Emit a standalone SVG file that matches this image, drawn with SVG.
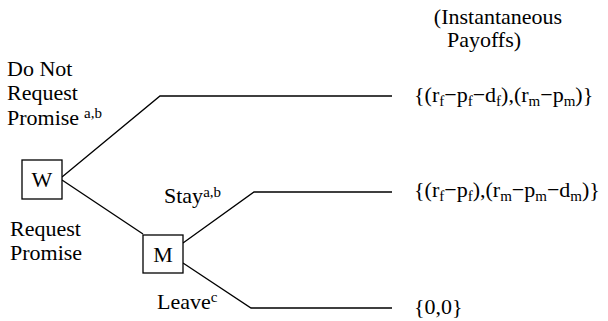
<svg xmlns="http://www.w3.org/2000/svg" width="608" height="321" viewBox="0 0 608 321">
<rect width="608" height="321" fill="#fff"/>
<g id="connectors" fill="none" stroke="#000" stroke-width="1.3">
<polyline points="62,177 160,96 392,96"/>
<line x1="62" y1="180" x2="143" y2="234"/>
<polyline points="183,243 254,192 392,192"/>
<polyline points="183,263 251,308 392,308"/>
</g>
<g id="node-W">
<rect x="22" y="160" width="40" height="39" fill="#fff" stroke="#000" stroke-width="1.3"/>
<text style="font-family:'Liberation Serif',serif;font-size:22px" font-family="Liberation Serif" font-size="22" x="42" y="187" text-anchor="middle">W</text>
</g>
<g id="node-M">
<rect x="143" y="235" width="40" height="38" fill="#fff" stroke="#000" stroke-width="1.3"/>
<text style="font-family:'Liberation Serif',serif;font-size:22px" font-family="Liberation Serif" font-size="22" x="163" y="262" text-anchor="middle">M</text>
</g>
<g id="labels">
<text style="font-family:'Liberation Serif',serif;font-size:22px" font-family="Liberation Serif" font-size="22" x="498" y="24" text-anchor="middle">(Instantaneous</text>
<text style="font-family:'Liberation Serif',serif;font-size:22px" font-family="Liberation Serif" font-size="22" x="484" y="47" text-anchor="middle">Payoffs)</text>
<text style="font-family:'Liberation Serif',serif;font-size:22px" font-family="Liberation Serif" font-size="22" x="7" y="76">Do Not</text>
<text style="font-family:'Liberation Serif',serif;font-size:22px" font-family="Liberation Serif" font-size="22" x="7" y="100">Request</text>
<text style="font-family:'Liberation Serif',serif;font-size:22px" font-family="Liberation Serif" font-size="22" x="7" y="125">Promise</text>
<text style="font-family:'Liberation Serif',serif;font-size:15px" font-family="Liberation Serif" font-size="15" x="84" y="118">a,b</text>
<text style="font-family:'Liberation Serif',serif;font-size:22px" font-family="Liberation Serif" font-size="22" x="10" y="236">Request</text>
<text style="font-family:'Liberation Serif',serif;font-size:22px" font-family="Liberation Serif" font-size="22" x="10" y="260">Promise</text>
<text style="font-family:'Liberation Serif',serif;font-size:22px" font-family="Liberation Serif" font-size="22" x="164" y="203">Stay<tspan style="font-size:15px" dy="-6">a,b</tspan></text>
<text style="font-family:'Liberation Serif',serif;font-size:22px" font-family="Liberation Serif" font-size="22" x="157" y="309">Leave<tspan style="font-size:15px" dy="-7">c</tspan></text>
</g>
<g id="payoffs">
<text style="font-family:'Liberation Serif',serif;font-size:22px" font-family="Liberation Serif" font-size="22" x="414" y="102">{(r<tspan style="font-size:15px" dy="4">f</tspan><tspan dy="-4">&#8722;p</tspan><tspan style="font-size:15px" dy="4">f</tspan><tspan dy="-4">&#8722;d</tspan><tspan style="font-size:15px" dy="4">f</tspan><tspan dy="-4">),(r</tspan><tspan style="font-size:15px" dy="4">m</tspan><tspan dy="-4">&#8722;p</tspan><tspan style="font-size:15px" dy="4">m</tspan><tspan dy="-4">)}</tspan></text>
<text style="font-family:'Liberation Serif',serif;font-size:22px" font-family="Liberation Serif" font-size="22" x="414" y="197">{(r<tspan style="font-size:15px" dy="4">f</tspan><tspan dy="-4">&#8722;p</tspan><tspan style="font-size:15px" dy="4">f</tspan><tspan dy="-4">),(r</tspan><tspan style="font-size:15px" dy="4">m</tspan><tspan dy="-4">&#8722;p</tspan><tspan style="font-size:15px" dy="4">m</tspan><tspan dy="-4">&#8722;d</tspan><tspan style="font-size:15px" dy="4">m</tspan><tspan dy="-4">)}</tspan></text>
<text style="font-family:'Liberation Serif',serif;font-size:22px" font-family="Liberation Serif" font-size="22" x="414" y="314">{0,0}</text>
</g>
</svg>
